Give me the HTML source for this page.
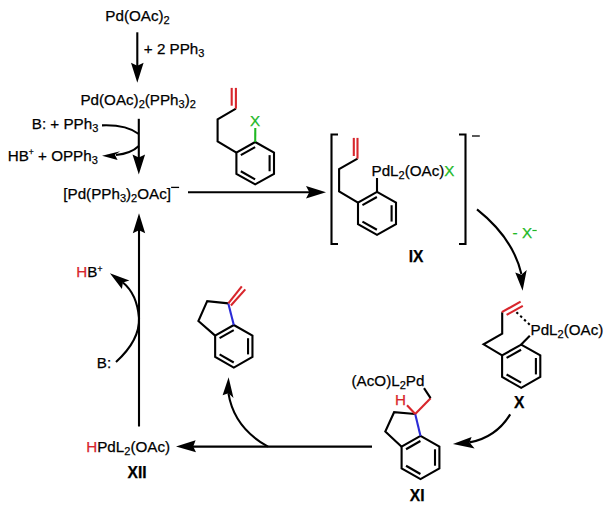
<!DOCTYPE html>
<html><head><meta charset="utf-8"><style>
html,body{margin:0;padding:0;background:#fff;width:610px;height:512px;overflow:hidden}
svg{display:block}
text{font-family:"Liberation Sans",sans-serif}
</style></head><body>
<svg width="610" height="512" viewBox="0 0 610 512">
<rect width="610" height="512" fill="#fff"/>
<text x="105.35" y="20.8" fill="#000" stroke="#000" stroke-width="0.25"><tspan font-size="15.2">Pd(OAc)</tspan><tspan font-size="11" dy="3.0">2</tspan></text>
<line x1="137.30" y1="32.30" x2="137.30" y2="68.00" stroke="#000" stroke-width="2.1"/>
<path d="M137.30,82.80 L131.00,62.80 L137.30,65.80 L143.60,62.80 Z" fill="#000"/>
<text x="143.86" y="53.5" fill="#000" stroke="#000" stroke-width="0.25"><tspan font-size="15.2">+ 2 PPh</tspan><tspan font-size="11" dy="3.0">3</tspan></text>
<text x="80.45" y="104.7" fill="#000" stroke="#000" stroke-width="0.25"><tspan font-size="15.2">Pd(OAc)</tspan><tspan font-size="11" dy="3.0">2</tspan><tspan font-size="15.2" dy="-3.0">(PPh</tspan><tspan font-size="11" dy="3.0">3</tspan><tspan font-size="15.2" dy="-3.0">)</tspan><tspan font-size="11" dy="3.0">2</tspan></text>
<line x1="138.80" y1="118.80" x2="138.80" y2="160.00" stroke="#000" stroke-width="2.1"/>
<path d="M138.80,174.60 L132.50,154.60 L138.80,157.60 L145.10,154.60 Z" fill="#000"/>
<text x="31.75" y="129.1" fill="#000" stroke="#000" stroke-width="0.25"><tspan font-size="15.2">B: + PPh</tspan><tspan font-size="11" dy="3.0">3</tspan></text>
<text x="7.75" y="160.6" fill="#000" stroke="#000" stroke-width="0.25"><tspan font-size="15.2">HB</tspan><tspan font-size="8.5" dy="-5.5">+</tspan><tspan font-size="15.2" dy="5.5"> + OPPh</tspan><tspan font-size="11" dy="3.0">3</tspan></text>
<path d="M102,125.4 Q126,124.5 138.8,134" fill="none" stroke="#000" stroke-width="2.1"/>
<path d="M138.8,146 Q131,153.5 116,155" fill="none" stroke="#000" stroke-width="2.1"/>
<path d="M102,155.8 L120.2,151.3 L114.9,154.7 L117.6,160.1 Z" fill="#000"/>
<text x="63.32" y="199.3" fill="#000" stroke="#000" stroke-width="0.25"><tspan font-size="15.2">[Pd(PPh</tspan><tspan font-size="11" dy="3.0">3</tspan><tspan font-size="15.2" dy="-3.0">)</tspan><tspan font-size="11" dy="3.0">2</tspan><tspan font-size="15.2" dy="-3.0">OAc]</tspan></text>
<line x1="171.10" y1="187.40" x2="179.10" y2="187.40" stroke="#000" stroke-width="1.3"/>
<line x1="188.00" y1="192.20" x2="310.00" y2="192.20" stroke="#000" stroke-width="2.1"/>
<path d="M326,192.2 L306,185.9 L309.3,192.2 L306,198.5 Z" fill="#000"/>
<polygon points="255.20,142.00 274.00,152.60 274.00,173.80 255.20,184.40 236.40,173.80 236.40,152.60" fill="none" stroke="#000" stroke-width="2.1" stroke-linejoin="miter"/>
<line x1="240.82" y1="155.16" x2="255.11" y2="147.10" stroke="#000" stroke-width="2.1"/>
<line x1="269.60" y1="155.14" x2="269.60" y2="171.26" stroke="#000" stroke-width="2.1"/>
<line x1="255.11" y1="179.30" x2="240.82" y2="171.24" stroke="#000" stroke-width="2.1"/>
<polyline points="236.40,152.60 217.60,141.30 217.60,119.30 235.90,108.70" fill="none" stroke="#000" stroke-width="2.1" stroke-linejoin="miter"/>
<line x1="235.90" y1="108.70" x2="235.90" y2="87.90" stroke="#d8262c" stroke-width="2.1"/>
<line x1="231.70" y1="87.90" x2="231.70" y2="105.70" stroke="#d8262c" stroke-width="2.1"/>
<line x1="255.20" y1="142.00" x2="255.30" y2="127.90" stroke="#20b824" stroke-width="2.1"/>
<text x="249.96" y="125.6" fill="#20b824" stroke="#20b824" stroke-width="0.25"><tspan font-size="15.2">X</tspan></text>
<path d="M338,134.5 L331.5,134.5 L331.5,244 L338,244" fill="none" stroke="#000" stroke-width="2.1"/>
<path d="M459,134.5 L465.5,134.5 L465.5,244 L459,244" fill="none" stroke="#000" stroke-width="2.1"/>
<line x1="472.00" y1="136.00" x2="479.80" y2="136.00" stroke="#000" stroke-width="1.3"/>
<polygon points="377.00,191.90 396.00,202.65 396.00,224.15 377.00,234.90 358.00,224.15 358.00,202.65" fill="none" stroke="#000" stroke-width="2.1" stroke-linejoin="miter"/>
<line x1="362.45" y1="205.19" x2="376.89" y2="197.02" stroke="#000" stroke-width="2.1"/>
<line x1="391.60" y1="205.23" x2="391.60" y2="221.57" stroke="#000" stroke-width="2.1"/>
<line x1="376.89" y1="229.78" x2="362.45" y2="221.61" stroke="#000" stroke-width="2.1"/>
<polyline points="358.00,202.65 339.10,191.30 339.10,169.10 357.50,158.70" fill="none" stroke="#000" stroke-width="2.1" stroke-linejoin="miter"/>
<line x1="357.50" y1="158.70" x2="357.50" y2="137.90" stroke="#d8262c" stroke-width="2.1"/>
<line x1="353.80" y1="137.90" x2="353.80" y2="156.00" stroke="#d8262c" stroke-width="2.1"/>
<line x1="377.00" y1="191.90" x2="377.00" y2="178.00" stroke="#000" stroke-width="2.1"/>
<text x="371.55" y="176.3" fill="#000" stroke="#000" stroke-width="0.25"><tspan font-size="15.2">PdL</tspan><tspan font-size="11" dy="3.0">2</tspan><tspan font-size="15.2" dy="-3.0">(OAc)</tspan><tspan font-size="15.2" fill="#20b824" stroke="#20b824">X</tspan></text>
<text x="408.78" y="261.6" font-size="15.6" font-weight="bold" fill="#000" stroke="#000" stroke-width="0.25">IX</text>
<path d="M477,209.4 Q513,238 521.4,274" fill="none" stroke="#000" stroke-width="2.1"/>
<path d="M522.6,290.8 L515.25,272.6 L521.4,274.7 L526.7,269.9 Z" fill="#000"/>
<text x="512.62" y="237.5" fill="#20b824" stroke="#20b824" stroke-width="0.25"><tspan font-size="15.2">- X</tspan></text>
<line x1="532.40" y1="230.50" x2="536.70" y2="230.50" stroke="#20b824" stroke-width="1.2"/>
<polygon points="521.20,344.60 540.30,355.40 540.30,377.00 521.20,387.80 502.10,377.00 502.10,355.40" fill="none" stroke="#000" stroke-width="2.1" stroke-linejoin="miter"/>
<line x1="506.56" y1="357.93" x2="521.07" y2="349.73" stroke="#000" stroke-width="2.1"/>
<line x1="535.90" y1="357.99" x2="535.90" y2="374.41" stroke="#000" stroke-width="2.1"/>
<line x1="521.07" y1="382.67" x2="506.56" y2="374.47" stroke="#000" stroke-width="2.1"/>
<polyline points="502.10,355.40 483.60,344.30 502.20,333.60 502.20,312.20" fill="none" stroke="#000" stroke-width="2.1" stroke-linejoin="miter"/>
<line x1="501.80" y1="312.20" x2="520.60" y2="301.60" stroke="#d8262c" stroke-width="2.1"/>
<line x1="506.60" y1="314.90" x2="522.80" y2="305.80" stroke="#d8262c" stroke-width="2.1"/>
<line x1="521.20" y1="344.60" x2="529.80" y2="335.80" stroke="#000" stroke-width="2.1"/>
<line x1="516.4" y1="312.2" x2="530.4" y2="325.4" stroke="#000" stroke-width="2.1" stroke-dasharray="2.4 2.9"/>
<text x="530.55" y="334.9" fill="#000" stroke="#000" stroke-width="0.25"><tspan font-size="15.2">PdL</tspan><tspan font-size="11" dy="3.0">2</tspan><tspan font-size="15.2" dy="-3.0">(OAc)</tspan></text>
<text x="513.90" y="408" font-size="15.6" font-weight="bold" fill="#000" stroke="#000" stroke-width="0.25">X</text>
<path d="M510.2,414.4 Q496,437.5 469.6,442.4" fill="none" stroke="#000" stroke-width="2.1"/>
<path d="M452.9,444 L471.6,437.1 L469.6,442.4 L474.6,448.6 Z" fill="#000"/>
<polygon points="420.50,435.90 439.40,446.70 439.40,468.30 420.50,479.10 401.60,468.30 401.60,446.70" fill="none" stroke="#000" stroke-width="2.1" stroke-linejoin="miter"/>
<line x1="406.05" y1="449.22" x2="420.42" y2="441.02" stroke="#000" stroke-width="2.1"/>
<line x1="435.00" y1="449.29" x2="435.00" y2="465.71" stroke="#000" stroke-width="2.1"/>
<line x1="420.42" y1="473.98" x2="406.05" y2="465.78" stroke="#000" stroke-width="2.1"/>
<polyline points="401.60,446.70 385.30,431.60 394.10,412.20 415.20,414.00" fill="none" stroke="#000" stroke-width="2.1" stroke-linejoin="miter"/>
<line x1="415.20" y1="414.00" x2="420.50" y2="435.90" stroke="#2b2bd6" stroke-width="2.1"/>
<line x1="415.20" y1="414.00" x2="430.60" y2="398.20" stroke="#d8262c" stroke-width="2.1"/>
<line x1="430.60" y1="398.20" x2="424.00" y2="388.20" stroke="#000" stroke-width="2.1"/>
<line x1="415.20" y1="414.00" x2="407.00" y2="405.20" stroke="#d8262c" stroke-width="2.1"/>
<text x="351.56" y="386.3" fill="#000" stroke="#000" stroke-width="0.25"><tspan font-size="15.2">(AcO)L</tspan><tspan font-size="11" dy="3.0">2</tspan><tspan font-size="15.2" dy="-3.0">Pd</tspan></text>
<text x="395.05" y="404.6" fill="#d8262c" stroke="#d8262c" stroke-width="0.25"><tspan font-size="15.2">H</tspan></text>
<text x="409.78" y="500.8" font-size="15.6" font-weight="bold" fill="#000" stroke="#000" stroke-width="0.25">XI</text>
<line x1="372.00" y1="446.60" x2="193.00" y2="446.60" stroke="#000" stroke-width="2.1"/>
<path d="M176,446.4 L195.6,440.2 L193.2,446.4 L196,452.3 Z" fill="#000"/>
<path d="M268,446.6 Q234,428 228.4,393.2" fill="none" stroke="#000" stroke-width="2.1"/>
<path d="M228.6,377.2 L222.6,395.2 L228.4,393.2 L233.5,398 Z" fill="#000"/>
<text x="86.25" y="452.1" fill="#000" stroke="#000" stroke-width="0.25"><tspan font-size="15.2" fill="#d8262c" stroke="#d8262c">H</tspan><tspan font-size="15.2">PdL</tspan><tspan font-size="11" dy="3.0">2</tspan><tspan font-size="15.2" dy="-3.0">(OAc)</tspan></text>
<text x="127.62" y="477.6" font-size="15.6" font-weight="bold" fill="#000" stroke="#000" stroke-width="0.25">XII</text>
<line x1="139.00" y1="426.50" x2="139.00" y2="229.00" stroke="#000" stroke-width="2.1"/>
<path d="M139.00,213.20 L145.20,233.20 L139.00,230.20 L132.80,233.20 Z" fill="#000"/>
<path d="M116,362 Q140,340 139,318 Q137,294 122.9,282.5" fill="none" stroke="#000" stroke-width="2.1"/>
<path d="M109.9,273.3 L129.4,280.5 L122.9,282.5 L121.9,289 Z" fill="#000"/>
<text x="76.35" y="277" fill="#000" stroke="#000" stroke-width="0.25"><tspan font-size="15.2" fill="#d8262c" stroke="#d8262c">H</tspan><tspan font-size="15.2">B</tspan><tspan font-size="8.5" dy="-5.5">+</tspan></text>
<text x="96.75" y="367.5" fill="#000" stroke="#000" stroke-width="0.25"><tspan font-size="15.2">B:</tspan></text>
<polygon points="233.80,325.00 252.45,335.65 252.45,356.95 233.80,367.60 215.15,356.95 215.15,335.65" fill="none" stroke="#000" stroke-width="2.1" stroke-linejoin="miter"/>
<line x1="219.57" y1="338.19" x2="233.74" y2="330.10" stroke="#000" stroke-width="2.1"/>
<line x1="248.05" y1="338.21" x2="248.05" y2="354.39" stroke="#000" stroke-width="2.1"/>
<line x1="233.74" y1="362.50" x2="219.57" y2="354.41" stroke="#000" stroke-width="2.1"/>
<polyline points="215.15,335.65 198.40,321.00 207.20,301.10 228.30,303.40" fill="none" stroke="#000" stroke-width="2.1" stroke-linejoin="miter"/>
<line x1="228.30" y1="303.40" x2="233.80" y2="325.00" stroke="#2b2bd6" stroke-width="2.1"/>
<line x1="228.30" y1="303.40" x2="241.80" y2="286.40" stroke="#d8262c" stroke-width="2.1"/>
<line x1="230.90" y1="305.50" x2="245.30" y2="289.40" stroke="#d8262c" stroke-width="2.1"/>
</svg></body></html>
